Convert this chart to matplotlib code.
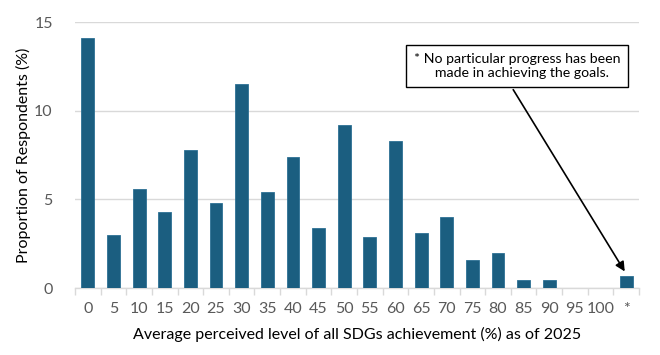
import matplotlib
matplotlib.use("Agg")
import matplotlib.pyplot as plt
import numpy as np

plt.rcParams['font.family'] = ['Lato', 'DejaVu Sans']

categories = ['0', '5', '10', '15', '20', '25', '30', '35', '40', '45', '50',
              '55', '60', '65', '70', '75', '80', '85', '90', '95', '100', '*']
values = [14.1, 3.0, 5.6, 4.3, 7.8, 4.8, 11.5, 5.4, 7.4, 3.4, 9.2,
          2.9, 8.3, 3.1, 4.0, 1.6, 2.0, 0.45, 0.45, 0.0, 0.0, 0.7]
note = "* No particular progress has been\n   made in achieving the goals."

bar_color = '#1b5e80'
txt_color = '#595959'

fig = plt.figure(figsize=(6.6, 3.55), dpi=100)
ax = fig.add_axes([75 / 660, 1 - 288 / 355, 564 / 660, 266 / 355])

x = np.arange(len(categories))
ax.bar(x, values, width=0.5, color=bar_color, edgecolor='#2d7194', linewidth=0.6, zorder=3)

ax.set_xlim(-0.5, len(categories) - 0.5)
ax.set_ylim(0, 15)
ax.set_yticks([0, 5, 10, 15])
ax.yaxis.grid(True, color='#d9d9d9', linewidth=1.0, zorder=0)

for s in ['top', 'right', 'left']:
    ax.spines[s].set_visible(False)
ax.spines['bottom'].set_color('#d9d9d9')
ax.spines['bottom'].set_linewidth(1.0)

ax.set_xticks(x)
ax.set_xticklabels(categories)
ax.set_xticks(np.arange(len(categories) + 1) - 0.5, minor=True)
ax.tick_params(axis='x', which='major', length=0, pad=10, labelsize=11.5, labelcolor=txt_color)
ax.tick_params(axis='x', which='minor', length=5, color='#d9d9d9', width=1.0)
ax.tick_params(axis='y', length=0, pad=16, labelsize=11.5, labelcolor=txt_color)

ax.set_xlabel("Average perceived level of all SDGs achievement (%) as of 2025",
              fontsize=11.5, color='black', labelpad=8)
ax.set_ylabel("Proportion of Respondents (%)", fontsize=11.5, color='black', labelpad=2)

ax.annotate(note, xy=(x[-1], values[-1] + 0.1), xytext=(517 / 660, 1 - 66 / 355),
            textcoords='figure fraction', ha='center', va='center', fontsize=10.2,
            bbox=dict(boxstyle='square,pad=0.55', fc='white', ec='black', lw=1.0),
            arrowprops=dict(arrowstyle='-|>', color='black', lw=1.2,
                            mutation_scale=14, relpos=(0.45, 0.0)),
            zorder=5)

fig.savefig('out.png', dpi=100)
